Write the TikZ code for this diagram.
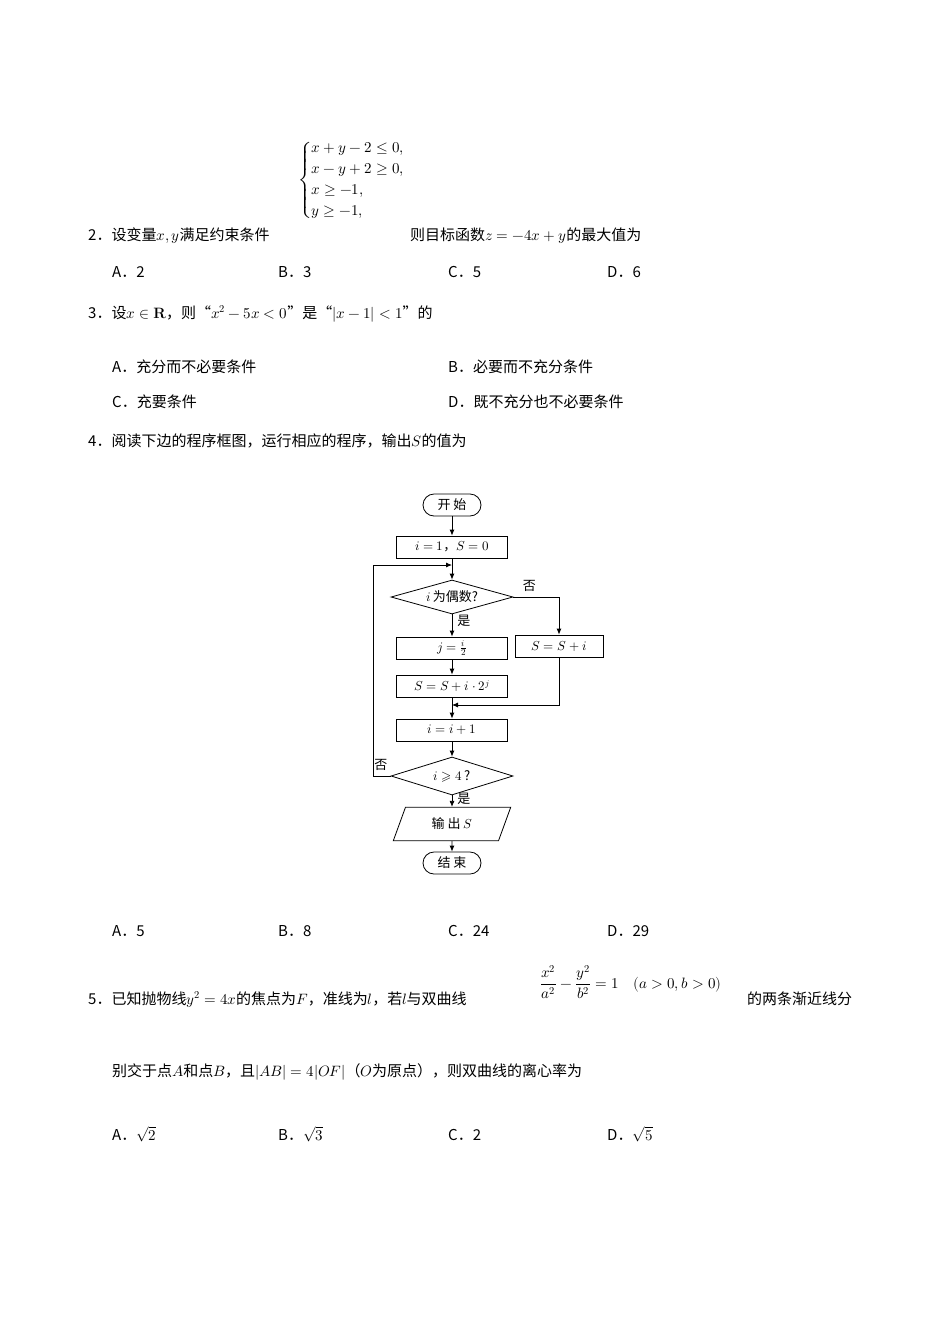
\documentclass[tikz,border=0pt]{standalone}
\usepackage{amsmath}
\usepackage{fontspec}
\usepackage{unicode-math}
\setmathfont{Latin Modern Math}
\newfontfamily\cjk{Noto Sans CJK SC}
\usetikzlibrary{shapes.geometric,arrows.meta}
\begin{document}
\fontsize{15}{18}\selectfont
\begin{tikzpicture}[x=1pt,y=-1pt,
  txt/.style={anchor=base west,inner sep=0pt,font=\cjk},
  fc/.style={font=\cjk\fontsize{13}{15}\selectfont},
  pbox/.style={draw,thick,minimum width=111,minimum height=22,inner sep=0pt,fc},
  term/.style={draw,thick,rounded corners=11,minimum width=58,minimum height=22,inner sep=0pt,fc},
  dia/.style={draw,thick,diamond,aspect=3.6,inner sep=0pt,fc},
  arr/.style={thick,-{Latex[length=6pt,width=5pt]}},
  ln/.style={thick}]
\useasboundingbox (0,0) rectangle (950,1344);
% Q2
\node[txt] (q2) at (88,240) {2．设变量$x,y$满足约束条件};
\node[anchor=west,inner sep=0pt] (sys) at (298,180) {$\left\{\begin{array}{@{}l@{}}x+y-2\le0,\\[3pt] x-y+2\ge0,\\[3pt] x\ge-1,\\[3pt] y\ge-1,\end{array}\right.$};
\node[txt] (q2b) at (410,240) {则目标函数$z=-4x+y$的最大值为};
\node[txt] (a2) at (112,277) {A．2};
\node[txt] (b2) at (278,277) {B．3};
\node[txt] (c2) at (448,277) {C．5};
\node[txt] (d2) at (607,277) {D．6};
% Q3
\node[txt] (q3) at (88,318) {3．设$x\in\mathbf{R}$，则“$x^2-5x<0$”是“$|x-1|<1$”的};
\node[txt] (a3) at (112,372) {A．充分而不必要条件};
\node[txt] (b3) at (448,372) {B．必要而不充分条件};
\node[txt] (c3) at (112,407) {C．充要条件};
\node[txt] (d3) at (448,407) {D．既不充分也不必要条件};
% Q4
\node[txt] (q4) at (88,446) {4．阅读下边的程序框图，运行相应的程序，输出$S$的值为};
% flowchart
\node[term] (st) at (452,505) {开\ 始};
\node[pbox] (init) at (452,547) {$i=1$，$S=0$};
\node[dia,minimum width=122,minimum height=34] (d1) at (452,597) {$i$\,为偶数?};
\node[pbox] (bj) at (452,648) {$j=\frac{i}{2}$};
\node[pbox] (bs) at (452,686) {$S=S+i\cdot2^{j}$};
\node[pbox,minimum width=88] (br) at (559,646) {$S=S+i$};
\node[pbox] (inc) at (452,730) {$i=i+1$};
\node[dia,minimum width=122,minimum height=38] (d2) at (452,776) {$i\geqslant4$\,?};
\node[trapezium,trapezium left angle=70,trapezium right angle=110,draw,thick,minimum width=118,minimum height=23,inner sep=2pt,fc] (out) at (452,824) {输\ 出\ $S$};
\node[term] (en) at (452,863) {结\ 束};
\coordinate (j1) at (452,565);
\coordinate (j2) at (452,705);
\draw[arr] (st) -- (init);
\draw[ln] (init) -- (j1);
\draw[arr] (j1) -- (d1);
\draw[arr] (d1) -- node[right,pos=0.3,fc]{是} (bj);
\draw[arr] (bj) -- (bs);
\draw[ln] (bs) -- (j2);
\draw[arr] (j2) -- (inc);
\draw[arr] (d1.east) -- node[above,pos=0.35,fc]{否} (d1.east -| br) -- (br);
\draw[arr] (br) |- (j2);
\draw[arr] (inc) -- (d2);
\draw[arr] (d2.west) -- node[above,pos=0.55,fc]{否} (373,776) -- (373,565) -- (j1);
\draw[arr] (d2) -- node[right,pos=0.3,fc]{是} (out);
\draw[arr] (out) -- (en);
\node[txt] (a4) at (112,936) {A．5};
\node[txt] (b4) at (278,936) {B．8};
\node[txt] (c4) at (448,936) {C．24};
\node[txt] (d4) at (607,936) {D．29};
% Q5
\node[txt] (q5) at (88,1004) {5．已知抛物线$y^2=4x$的焦点为$F$，准线为$l$，若$l$与双曲线};
\node[anchor=west,inner sep=0pt] (hyp) at (540,982) {$\dfrac{x^2}{a^2}-\dfrac{y^2}{b^2}=1\quad(a>0,b>0)$};
\node[txt] (q5b) at (747,1004) {的两条渐近线分};
\node[txt] (q5c) at (112,1076) {别交于点$A$和点$B$，且$|AB|=4|OF|$（$O$为原点），则双曲线的离心率为};
\node[txt] (a5) at (112,1140) {A．$\sqrt2$};
\node[txt] (b5) at (278,1140) {B．$\sqrt3$};
\node[txt] (c5) at (448,1140) {C．2};
\node[txt] (d5) at (607,1140) {D．$\sqrt5$};
\end{tikzpicture}
\end{document}
